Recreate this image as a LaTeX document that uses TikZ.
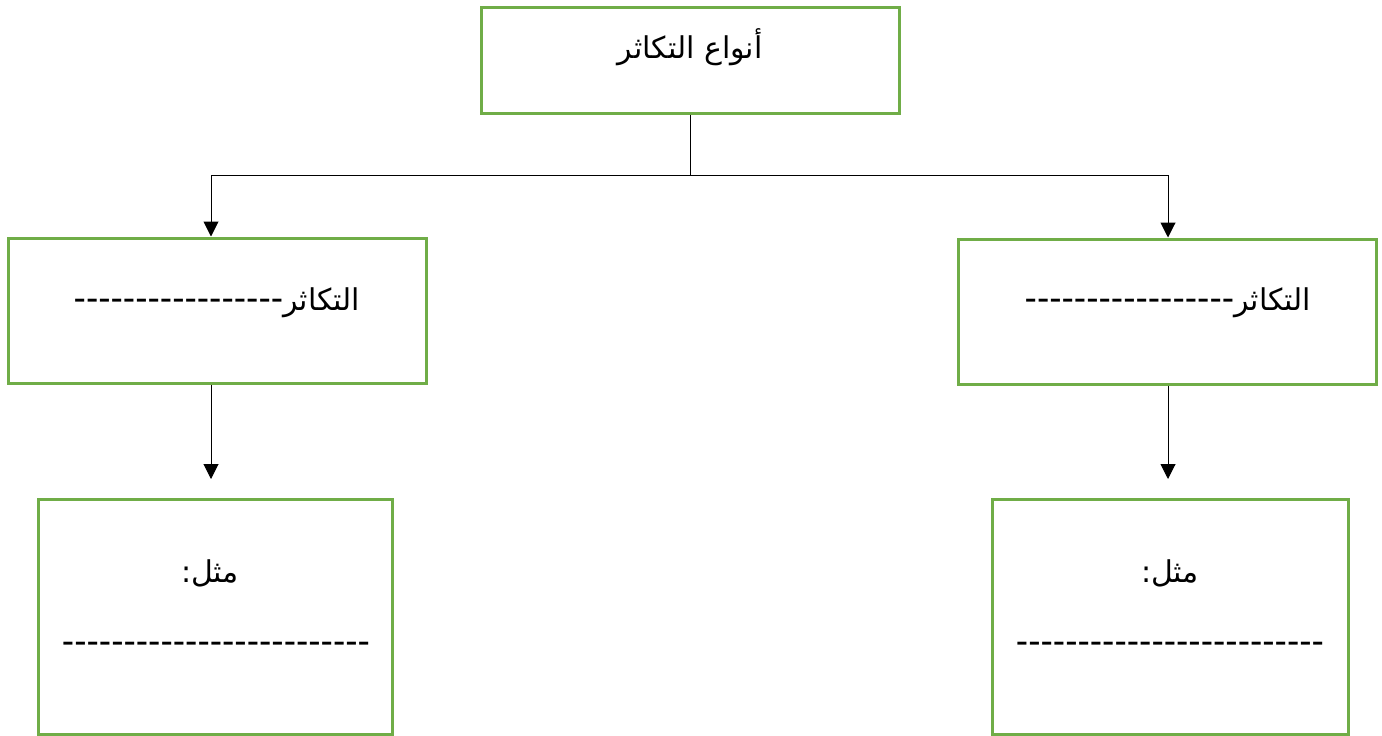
\documentclass[tikz,border=0pt]{standalone}
\usepackage{fontspec}
\setmainfont{Liberation Sans}
\newfontfamily\arabicfont[Script=Arabic]{DejaVu Sans}
\newfontfamily\dashfont[Ligatures=TeXOff]{Liberation Sans}
\TeXXeTstate=1
\usetikzlibrary{arrows.meta}
\definecolor{boxgreen}{HTML}{70AD47}
\newcommand{\arsz}{\arabicfont\fontsize{30}{36}\selectfont}
\newcommand{\dsz}{\dashfont\fontsize{37}{42}\selectfont}
\tikzset{
  box/.style={draw=boxgreen, line width=3pt, rectangle, inner sep=0pt},
  conn/.style={line width=1pt, draw=black},
  arr/.style={conn, -{Triangle[width=15pt,length=15pt]}},
  lbl/.style={inner sep=0pt, anchor=base},
}
\begin{document}
\begin{tikzpicture}[x=1pt,y=-1pt]
\useasboundingbox (0,0) rectangle (1382,736);
% boxes
\node[box, minimum width=418pt, minimum height=106pt] (top) at (690,60) {};
\node[box, minimum width=418pt, minimum height=145pt] (lm) at (217,310.5) {};
\node[box, minimum width=418pt, minimum height=145pt] (rm) at (1167,311.5) {};
\node[box, minimum width=354pt, minimum height=235pt] (lb) at (215,616.5) {};
\node[box, minimum width=356pt, minimum height=235pt] (rb) at (1170,616.5) {};
% texts
\node[lbl] (ttop) at (690,58) {\arsz\beginR أنواع التكاثر\endR};
\node[lbl] (tlm) at (217,310) {\beginR{\arsz التكاثر}{\dsz -----------------}\endR};
\node[lbl] (trm) at (1168,310) {\beginR{\arsz التكاثر}{\dsz -----------------}\endR};
\node[lbl] (tlb1) at (210,582) {\arsz\beginR مثل:\endR};
\node[lbl] (tlb2) at (216,653) {\dsz -------------------------};
\node[lbl] (trb1) at (1170,582) {\arsz\beginR مثل:\endR};
\node[lbl] (trb2) at (1170,653) {\dsz -------------------------};
% connectors
\coordinate (j) at (690,175);
\draw[conn] (top.south) -- (j);
\draw[arr] (j) -| ([xshift=-6pt]lm.north);
\draw[arr] (j) -| ([xshift=1pt]rm.north);
\draw[arr, shorten >=18.5pt] ([xshift=-6pt]lm.south) -- ([xshift=-4pt]lb.north);
\draw[arr, shorten >=18.5pt] ([xshift=1pt]rm.south) -- ([xshift=-2pt]rb.north);
\end{tikzpicture}
\end{document}
